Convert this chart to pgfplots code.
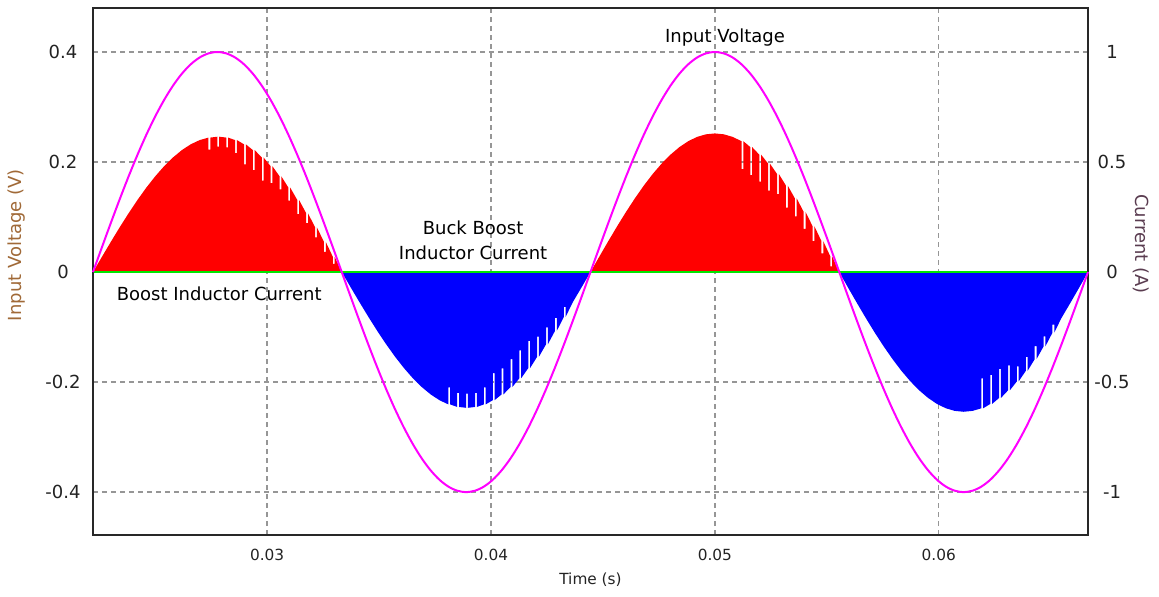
\documentclass[border=0pt]{standalone}
\usepackage{pgfplots}
\usepackage{pgfplotstable}
\pgfplotsset{compat=1.18}
\usepackage{fontspec}
\setmainfont{DejaVu Sans}

\definecolor{gridgray}{RGB}{150,150,150}
\definecolor{framegray}{RGB}{40,40,40}
\definecolor{ticktext}{RGB}{35,35,35}
\definecolor{vlabel}{RGB}{160,105,55}
\definecolor{ilabel}{RGB}{90,60,80}
\definecolor{vin}{RGB}{255,0,255}
\definecolor{posI}{RGB}{255,0,0}
\definecolor{negI}{RGB}{0,0,255}
\definecolor{zeroI}{RGB}{0,230,0}

\newcommand\bigfont{\fontsize{13.5}{16}\selectfont}
\newcommand\smallfont{\fontsize{11.5}{14}\selectfont}

% input voltage (V)
\pgfplotstableread{
t v
0.022222 0
0.022619 0.0448
0.023016 0.0890
0.023413 0.1321
0.023810 0.1736
0.024206 0.2128
0.024603 0.2494
0.025000 0.2828
0.025397 0.3127
0.025794 0.3387
0.026190 0.3604
0.026587 0.3776
0.026984 0.3900
0.027381 0.3975
0.027778 0.4000
0.028175 0.3975
0.028571 0.3900
0.028968 0.3776
0.029365 0.3604
0.029762 0.3387
0.030159 0.3127
0.030556 0.2828
0.030952 0.2494
0.031349 0.2128
0.031746 0.1736
0.032143 0.1321
0.032540 0.0890
0.032937 0.0448
0.033333 0
0.033730 -0.0448
0.034127 -0.0890
0.034524 -0.1321
0.034921 -0.1736
0.035317 -0.2128
0.035714 -0.2494
0.036111 -0.2828
0.036508 -0.3127
0.036905 -0.3387
0.037302 -0.3604
0.037698 -0.3776
0.038095 -0.3900
0.038492 -0.3975
0.038889 -0.4000
0.039286 -0.3975
0.039683 -0.3900
0.040079 -0.3776
0.040476 -0.3604
0.040873 -0.3387
0.041270 -0.3127
0.041667 -0.2828
0.042063 -0.2494
0.042460 -0.2128
0.042857 -0.1736
0.043254 -0.1321
0.043651 -0.0890
0.044048 -0.0448
0.044444 0
0.044841 0.0448
0.045238 0.0890
0.045635 0.1321
0.046032 0.1736
0.046429 0.2128
0.046825 0.2494
0.047222 0.2828
0.047619 0.3127
0.048016 0.3387
0.048413 0.3604
0.048810 0.3776
0.049206 0.3900
0.049603 0.3975
0.050000 0.4000
0.050397 0.3975
0.050794 0.3900
0.051190 0.3776
0.051587 0.3604
0.051984 0.3387
0.052381 0.3127
0.052778 0.2828
0.053175 0.2494
0.053571 0.2128
0.053968 0.1736
0.054365 0.1321
0.054762 0.0890
0.055159 0.0448
0.055556 0
0.055952 -0.0448
0.056349 -0.0890
0.056746 -0.1321
0.057143 -0.1736
0.057540 -0.2128
0.057937 -0.2494
0.058333 -0.2828
0.058730 -0.3127
0.059127 -0.3387
0.059524 -0.3604
0.059921 -0.3776
0.060317 -0.3900
0.060714 -0.3975
0.061111 -0.4000
0.061508 -0.3975
0.061905 -0.3900
0.062302 -0.3776
0.062698 -0.3604
0.063095 -0.3387
0.063492 -0.3127
0.063889 -0.2828
0.064286 -0.2494
0.064683 -0.2128
0.065079 -0.1736
0.065476 -0.1321
0.065873 -0.0890
0.066270 -0.0448
0.066667 0
}\vdata

% boost inductor current, first positive half cycle (A)
\pgfplotstableread{
t i
0.022222 0
0.022619 0.0689
0.023016 0.1368
0.023413 0.2031
0.023810 0.2668
0.024206 0.3272
0.024603 0.3835
0.025000 0.4349
0.025397 0.4808
0.025794 0.5207
0.026190 0.5541
0.026587 0.5805
0.026984 0.5996
0.027381 0.6111
0.027381 0.5561
0.027461 0.5561
0.027461 0.6111
0.027778 0.6150
0.027778 0.5700
0.027858 0.5700
0.027858 0.6150
0.028175 0.6111
0.028175 0.5661
0.028255 0.5661
0.028255 0.6111
0.028571 0.5996
0.028571 0.5406
0.028651 0.5406
0.028651 0.5996
0.028968 0.5805
0.028968 0.4895
0.029048 0.4895
0.029048 0.5805
0.029365 0.5541
0.029365 0.4631
0.029445 0.4631
0.029445 0.5541
0.029762 0.5207
0.029762 0.4157
0.029842 0.4157
0.029842 0.5207
0.030159 0.4808
0.030159 0.4038
0.030239 0.4038
0.030239 0.4808
0.030556 0.4349
0.030556 0.3759
0.030636 0.3759
0.030636 0.4349
0.030952 0.3835
0.030952 0.3245
0.031032 0.3245
0.031032 0.3835
0.031349 0.3272
0.031349 0.2632
0.031429 0.2632
0.031429 0.3272
0.031746 0.2668
0.031746 0.2218
0.031826 0.2218
0.031826 0.2668
0.032143 0.2031
0.032143 0.1581
0.032223 0.1581
0.032223 0.2031
0.032540 0.1368
0.032540 0.0918
0.032620 0.0918
0.032620 0.1368
0.032937 0.0689
0.032937 0.0369
0.033017 0.0369
0.033017 0.0689
0.033333 0
}\iposA

% buck boost inductor current, first negative half cycle (A)
\pgfplotstableread{
t i
0.033333 0
0.033730 -0.0691
0.034127 -0.1373
0.034524 -0.2038
0.034921 -0.2677
0.035317 -0.3282
0.035714 -0.3847
0.036111 -0.4363
0.036508 -0.4824
0.036905 -0.5224
0.037302 -0.5559
0.037698 -0.5824
0.038095 -0.6015
0.038095 -0.5245
0.038175 -0.5245
0.038175 -0.6015
0.038492 -0.6131
0.038492 -0.5491
0.038572 -0.5491
0.038572 -0.6131
0.038889 -0.6170
0.038889 -0.5530
0.038969 -0.5530
0.038969 -0.6170
0.039286 -0.6131
0.039286 -0.5491
0.039366 -0.5491
0.039366 -0.6131
0.039683 -0.6015
0.039683 -0.5245
0.039763 -0.5245
0.039763 -0.6015
0.040079 -0.5824
0.040079 -0.4594
0.040159 -0.4594
0.040159 -0.5824
0.040476 -0.5559
0.040476 -0.4379
0.040556 -0.4379
0.040556 -0.5559
0.040873 -0.5224
0.040873 -0.3954
0.040953 -0.3954
0.040953 -0.5224
0.041270 -0.4824
0.041270 -0.3554
0.041350 -0.3554
0.041350 -0.4824
0.041667 -0.4363
0.041667 -0.3133
0.041747 -0.3133
0.041747 -0.4363
0.042063 -0.3847
0.042063 -0.2937
0.042143 -0.2937
0.042143 -0.3847
0.042460 -0.3282
0.042460 -0.2512
0.042540 -0.2512
0.042540 -0.3282
0.042857 -0.2677
0.042857 -0.2087
0.042937 -0.2087
0.042937 -0.2677
0.043254 -0.2038
0.043254 -0.1588
0.043334 -0.1588
0.043334 -0.2038
0.043651 -0.1373
0.044048 -0.0691
0.044444 0
}\inegA

% boost inductor current, second positive half cycle (A)
\pgfplotstableread{
t i
0.044444 0
0.044841 0.0706
0.045238 0.1402
0.045635 0.2081
0.046032 0.2734
0.046429 0.3352
0.046825 0.3928
0.047222 0.4455
0.047619 0.4925
0.048016 0.5334
0.048413 0.5676
0.048810 0.5947
0.049206 0.6142
0.049603 0.6260
0.050000 0.6300
0.050397 0.6260
0.050794 0.6142
0.051190 0.5947
0.051190 0.4677
0.051270 0.4677
0.051270 0.5947
0.051587 0.5676
0.051587 0.4406
0.051667 0.4406
0.051667 0.5676
0.051984 0.5334
0.051984 0.4104
0.052064 0.4104
0.052064 0.5334
0.052381 0.4925
0.052381 0.3695
0.052461 0.3695
0.052461 0.4925
0.052778 0.4455
0.052778 0.3545
0.052858 0.3545
0.052858 0.4455
0.053175 0.3928
0.053175 0.2928
0.053255 0.2928
0.053255 0.3928
0.053571 0.3352
0.053571 0.2532
0.053651 0.2532
0.053651 0.3352
0.053968 0.2734
0.053968 0.1964
0.054048 0.1964
0.054048 0.2734
0.054365 0.2081
0.054365 0.1401
0.054445 0.1401
0.054445 0.2081
0.054762 0.1402
0.054762 0.0852
0.054842 0.0852
0.054842 0.1402
0.055159 0.0706
0.055159 0.0256
0.055239 0.0256
0.055239 0.0706
0.055556 0
}\iposB

% buck boost inductor current, second negative half cycle (A)
\pgfplotstableread{
t i
0.055556 0
0.055952 -0.0711
0.056349 -0.1413
0.056746 -0.2097
0.057143 -0.2755
0.057540 -0.3378
0.057937 -0.3959
0.058333 -0.4490
0.058730 -0.4964
0.059127 -0.5377
0.059524 -0.5721
0.059921 -0.5994
0.060317 -0.6191
0.060714 -0.6310
0.061111 -0.6350
0.061508 -0.6310
0.061905 -0.6191
0.061905 -0.4831
0.061985 -0.4831
0.061985 -0.6191
0.062302 -0.5994
0.062302 -0.4674
0.062382 -0.4674
0.062382 -0.5994
0.062698 -0.5721
0.062698 -0.4401
0.062778 -0.4401
0.062778 -0.5721
0.063095 -0.5377
0.063095 -0.4237
0.063175 -0.4237
0.063175 -0.5377
0.063492 -0.4964
0.063492 -0.4284
0.063572 -0.4284
0.063572 -0.4964
0.063889 -0.4490
0.063889 -0.3850
0.063969 -0.3850
0.063969 -0.4490
0.064286 -0.3959
0.064286 -0.3369
0.064366 -0.3369
0.064366 -0.3959
0.064683 -0.3378
0.064683 -0.2928
0.064763 -0.2928
0.064763 -0.3378
0.065079 -0.2755
0.065079 -0.2395
0.065159 -0.2395
0.065159 -0.2755
0.065476 -0.2097
0.065873 -0.1413
0.066270 -0.0711
0.066667 0
}\inegB

\pgfplotsset{
  scopecommon/.style={
    scale only axis,
    width=746.25pt, height=395.25pt,
    xmin=0.022222, xmax=0.066667,
    major tick length=0pt,
    axis line style={line width=1.2pt, color=framegray},
    xtick={0.03,0.04,0.05,0.06},
    scaled x ticks=false,
    scaled y ticks=false,
  },
}

\begin{document}
\begin{tikzpicture}
% current axis (right scale), drawn first so the voltage trace lies on top
\begin{axis}[
  scopecommon,
  ymin=-1.195, ymax=1.2,
  xticklabels={0.03,0.04,0.05,0.06},
  xticklabel style={font=\smallfont, text=ticktext, anchor=center, yshift=-15pt},
  ytick={-1,-0.5,0,0.5,1},
  yticklabels={-1,-0.5,0,0.5,1},
  yticklabel pos=right,
  yticklabel style={font=\bigfont, text=ticktext, anchor=center, xshift=18pt},
  grid=major,
  major grid style={gridgray, line width=1.1pt, dash pattern=on 3.75pt off 3pt},
  xlabel={Time (s)},
  every axis x label/.style={at={(rel axis cs:0.5,-0.0854)}, anchor=center, font=\smallfont, text=ticktext},
  ylabel={Current (A)},
  every axis y label/.style={at={(rel axis cs:1.0533,0.552)}, anchor=center, rotate=-90, font=\bigfont, text=ilabel},
]
\addplot[fill=posI, draw=none] table[x=t, y=i] {\iposA} \closedcycle;
\addplot[fill=negI, draw=none] table[x=t, y=i] {\inegA} \closedcycle;
\addplot[fill=posI, draw=none] table[x=t, y=i] {\iposB} \closedcycle;
\addplot[fill=negI, draw=none] table[x=t, y=i] {\inegB} \closedcycle;
\addplot[zeroI, line width=1.7pt] coordinates {(0.022222,0) (0.066667,0)};
\coordinate (bl) at (rel axis cs:0,0);
\coordinate (tr) at (rel axis cs:1,1);
\end{axis}

% input voltage axis (left scale)
\begin{axis}[
  scopecommon,
  ymin=-0.478, ymax=0.48,
  xticklabels={},
  ytick={-0.4,-0.2,0,0.2,0.4},
  yticklabels={-0.4,-0.2,0,0.2,0.4},
  yticklabel style={font=\bigfont, text=ticktext, anchor=center, xshift=-22.5pt},
  ylabel={Input Voltage (V)},
  every axis y label/.style={at={(rel axis cs:-0.0764,0.55)}, anchor=center, rotate=90, font=\bigfont, text=vlabel},
  clip=false,
]
\addplot[vin, line width=1.5pt, smooth] table[x=t, y=v] {\vdata};
\node[font=\bigfont] at (axis cs:0.05045,0.4255) {Input Voltage};
\node[font=\bigfont, align=center, inner sep=0pt] at (axis cs:0.03920,0.058) {Buck Boost\\[3pt]Inductor Current};
\node[font=\bigfont] at (axis cs:0.02786,-0.040) {Boost Inductor Current};
\end{axis}

\pgfresetboundingbox
\path[use as bounding box] ([shift={(-69.75pt,-45.75pt)}]bl) rectangle ([shift={(53.25pt,6pt)}]tr);
\end{tikzpicture}
\end{document}
